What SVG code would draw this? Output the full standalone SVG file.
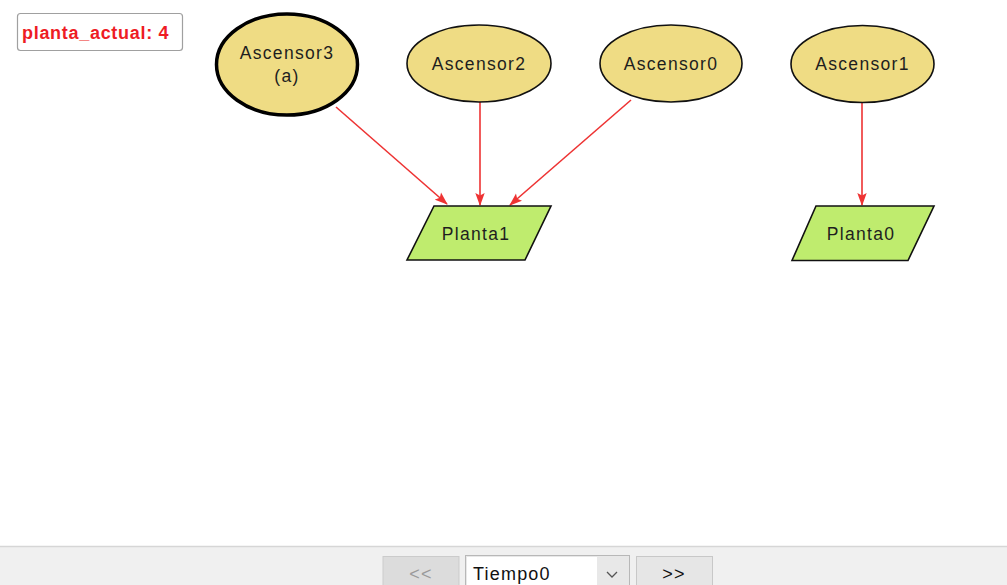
<svg xmlns="http://www.w3.org/2000/svg" width="1007" height="585" viewBox="0 0 1007 585">
<style>
.asc{fill:#efdc84;stroke:#111;stroke-width:1.6}
.planta{fill:#bfec6e;stroke:#111;stroke-width:1.6}
.lbl{font-family:"Liberation Sans",Arial,sans-serif;font-size:17.5px;fill:#1e1e1e;text-anchor:middle;letter-spacing:1.3px}
.edge{stroke:#ee3333;stroke-width:1.6;fill:none;marker-end:url(#arr)}
.btn{fill:#e6e6e6;stroke:#c8c8c8;stroke-width:1}
.ui{font-family:"Liberation Sans",Arial,sans-serif;font-size:18px;letter-spacing:1.2px}
</style>
<defs>
<marker id="arr" viewBox="0 0 13 11" refX="12" refY="5.5" markerWidth="13" markerHeight="11" markerUnits="userSpaceOnUse" orient="auto">
<path d="M0,0.8 L13,5.5 L0,10.2 L2.5,5.5 Z" fill="#ee3333"/>
</marker>
</defs>
<rect width="1007" height="585" fill="#ffffff"/>
<g id="planta_actual">
<rect x="17.5" y="13.5" width="165" height="37" rx="3" fill="#fff" stroke="#a0a0a0" stroke-width="1.2"/>
<text x="22" y="38.5" font-family="'Liberation Sans',Arial,sans-serif" font-size="18" font-weight="bold" fill="#ee1c24" letter-spacing="0.7">planta_actual: 4</text>
</g>
<g id="connectors">
<line class="edge" x1="336" y1="107" x2="447" y2="204"/>
<line class="edge" x1="480" y1="102" x2="480" y2="205"/>
<line class="edge" x1="631" y1="100" x2="510" y2="205"/>
<line class="edge" x1="862" y1="102" x2="862" y2="205"/>
</g>
<g id="Ascensor3">
<ellipse cx="287" cy="64.5" rx="70.5" ry="50.5" fill="#efdc84" stroke="#000" stroke-width="3.5"/>
<text class="lbl" x="287" y="59">Ascensor3</text>
<text class="lbl" x="287" y="82">(a)</text>
</g>
<g id="Ascensor2">
<ellipse class="asc" cx="479" cy="63.5" rx="72" ry="38.5"/>
<text class="lbl" x="479" y="70">Ascensor2</text>
</g>
<g id="Ascensor0">
<ellipse class="asc" cx="671" cy="63.5" rx="71" ry="38.5"/>
<text class="lbl" x="671" y="70">Ascensor0</text>
</g>
<g id="Ascensor1">
<ellipse class="asc" cx="862.5" cy="64" rx="71.5" ry="38.5"/>
<text class="lbl" x="862.5" y="70">Ascensor1</text>
</g>
<g id="Planta1">
<polygon class="planta" points="434,206 551,206 525,260 407,260"/>
<text class="lbl" x="476" y="240">Planta1</text>
</g>
<g id="Planta0">
<polygon class="planta" points="816,206 934,206 908,260.5 792,260.5"/>
<text class="lbl" x="861" y="240">Planta0</text>
</g>
<g id="toolbar">
<rect x="0" y="546" width="1007" height="39" fill="#f0f0f0"/>
<line x1="0" y1="546.5" x2="1007" y2="546.5" stroke="#d6d6d6" stroke-width="1.5"/>
<rect x="383" y="556.5" width="76" height="32" fill="#dcdcdc" stroke="#cbcbcb"/>
<text class="ui" x="421" y="580" text-anchor="middle" fill="#9a9a9a">&lt;&lt;</text>
<rect x="465.5" y="555.5" width="164" height="33" fill="#e8e8e8" stroke="#b8b8b8"/>
<rect x="467" y="557" width="130" height="30" fill="#ffffff"/>
<text class="ui" x="473" y="580" fill="#111">Tiempo0</text>
<path d="M607,572 L612,577 L617,572" fill="none" stroke="#555" stroke-width="1.3"/>
<rect x="636.5" y="556.5" width="76" height="32" class="btn"/>
<text class="ui" x="674" y="580" text-anchor="middle" fill="#111">&gt;&gt;</text>
</g>
</svg>
